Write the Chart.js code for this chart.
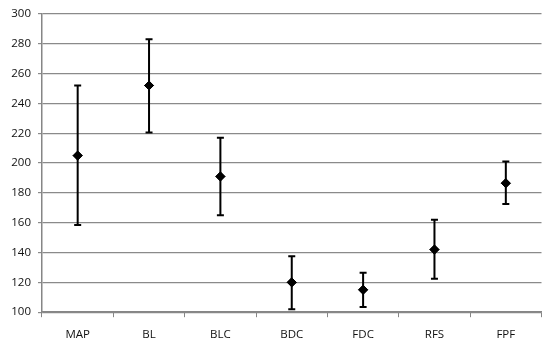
<!DOCTYPE html>
<html>
<head>
<meta charset="utf-8">
<script src="https://cdn.jsdelivr.net/npm/chart.js@4"></script>
<style>
html,body{margin:0;padding:0;background:#fff;}
#wrap{width:547px;height:348px;}
</style>
</head>
<body>
<div id="wrap"><canvas id="c" width="547" height="348"></canvas></div>
<script>
const categories = ["MAP", "BL", "BLC", "BDC", "FDC", "RFS", "FPF"];
const means = [205, 252, 191, 120, 115, 142, 186.5];
const highs = [252, 283, 217, 137.5, 126.5, 162, 201];
const lows  = [158.5, 220.5, 165, 102, 103.5, 122.5, 172.5];
const yTicks = [100, 120, 140, 160, 180, 200, 220, 240, 260, 280, 300];

const errorBars = {
  id: 'errorBars',
  afterDatasetsDraw(chart) {
    const ctx = chart.ctx;
    const xs = chart.scales.x, ys = chart.scales.y;
    ctx.save();
    ctx.strokeStyle = '#000';
    ctx.lineWidth = 2;
    categories.forEach((c, i) => {
      const x = xs.getPixelForValue(i);
      const yh = ys.getPixelForValue(highs[i]);
      const yl = ys.getPixelForValue(lows[i]);
      ctx.beginPath();
      ctx.moveTo(x, yh); ctx.lineTo(x, yl);
      ctx.moveTo(x - 3.5, yh); ctx.lineTo(x + 3.5, yh);
      ctx.moveTo(x - 3.5, yl); ctx.lineTo(x + 3.5, yl);
      ctx.stroke();
    });
    ctx.restore();
    chart.getDatasetMeta(0).controller.draw();
  }
};

new Chart(document.getElementById('c'), {
  type: 'line',
  data: {
    labels: categories,
    datasets: [{
      data: means,
      showLine: false,
      pointStyle: 'rectRot',
      pointRadius: 4.5,
      pointBackgroundColor: '#000',
      pointBorderColor: '#000',
      borderColor: '#000'
    }]
  },
  options: {
    responsive: false,
    animation: false,
    layout: { padding: { left: 0, right: 1, top: 9, bottom: -5 } },
    plugins: { legend: { display: false }, tooltip: { enabled: false } },
    scales: {
      x: {
        offset: true,
        grid: { offset: true, drawOnChartArea: false, drawTicks: true, tickLength: 5, color: '#868686' },
        border: { color: '#868686', width: 1.5 },
        ticks: { color: '#111', font: { family: 'Open Sans', size: 11.5 }, padding: 11 }
      },
      y: {
        min: 100, max: 300,
        afterBuildTicks(s) { s.ticks = yTicks.map(v => ({ value: v })); },
        afterFit(s) { s.width = 42; },
        grid: { color: '#8a8a8a', lineWidth: 1.2, tickLength: 4 },
        border: { color: '#868686', width: 1.5 },
        ticks: { color: '#111', font: { family: 'Open Sans', size: 11.5 }, padding: 7 }
      }
    }
  },
  plugins: [errorBars]
});
</script>
</body>
</html>
